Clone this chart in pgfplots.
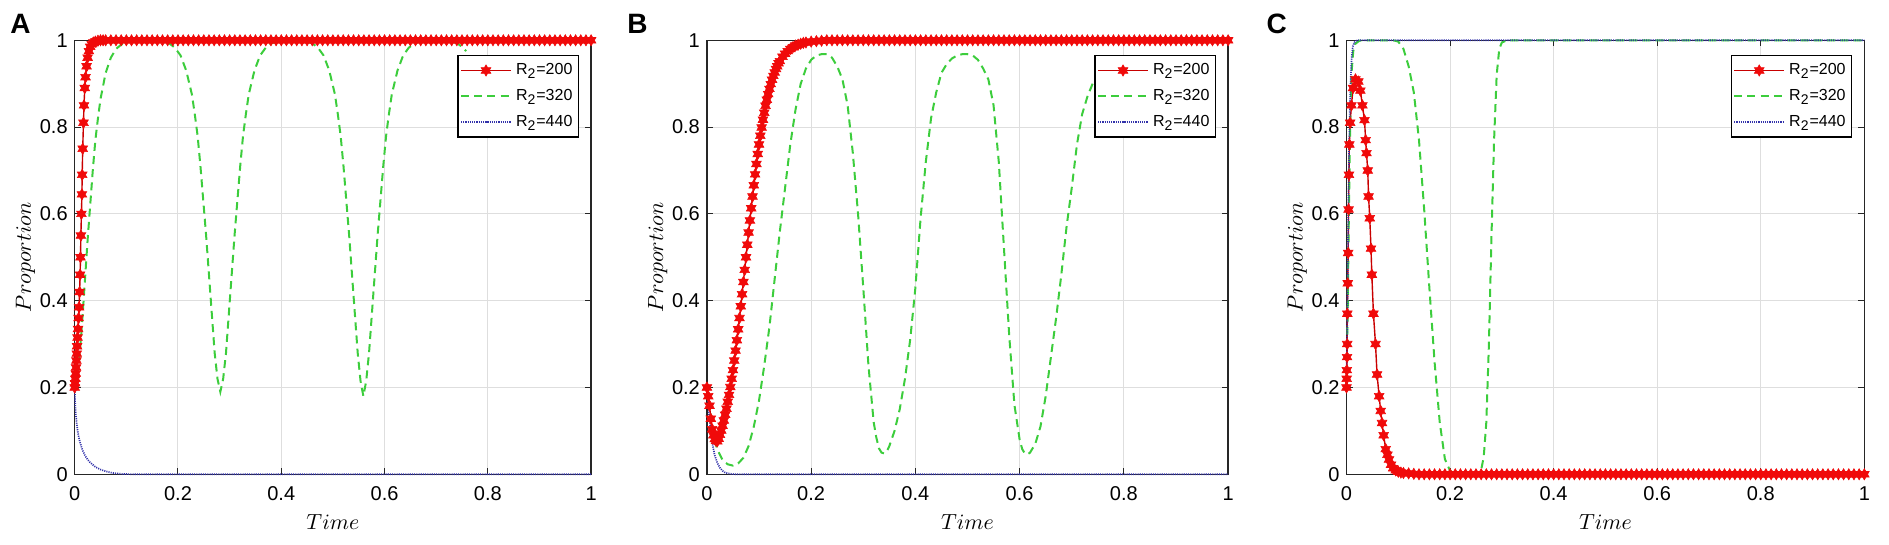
\documentclass[border=0pt]{standalone}
\usepackage{fontspec}
\setmainfont{Liberation Sans}
\usepackage{pgfplots}
\pgfplotsset{compat=1.18}
\definecolor{rline}{RGB}{200,0,0}
\definecolor{rmark}{RGB}{240,10,10}
\definecolor{gline}{RGB}{60,205,60}
\definecolor{bline}{RGB}{50,50,170}
\pgfdeclareplotmark{hexagram}{%
  \pgfpathmoveto{\pgfpointpolar{90}{\pgfplotmarksize}}%
  \pgfpathlineto{\pgfpointpolar{120}{0.577\pgfplotmarksize}}%
  \pgfpathlineto{\pgfpointpolar{150}{\pgfplotmarksize}}%
  \pgfpathlineto{\pgfpointpolar{180}{0.577\pgfplotmarksize}}%
  \pgfpathlineto{\pgfpointpolar{210}{\pgfplotmarksize}}%
  \pgfpathlineto{\pgfpointpolar{240}{0.577\pgfplotmarksize}}%
  \pgfpathlineto{\pgfpointpolar{270}{\pgfplotmarksize}}%
  \pgfpathlineto{\pgfpointpolar{300}{0.577\pgfplotmarksize}}%
  \pgfpathlineto{\pgfpointpolar{330}{\pgfplotmarksize}}%
  \pgfpathlineto{\pgfpointpolar{0}{0.577\pgfplotmarksize}}%
  \pgfpathlineto{\pgfpointpolar{30}{\pgfplotmarksize}}%
  \pgfpathlineto{\pgfpointpolar{60}{0.577\pgfplotmarksize}}%
  \pgfpathclose
  \pgfusepathqfillstroke
}
\pgfplotsset{
  panel/.style={
    scale only axis, height=217pt,
    anchor=south west,
    xmin=0, xmax=1, ymin=0, ymax=1,
    xtick={0,0.2,0.4,0.6,0.8,1}, ytick={0,0.2,0.4,0.6,0.8,1},
    grid=major, major grid style={black!13, line width=0.5pt},
    tick align=inside, major tick length=3pt,
    tick style={black!85, line width=0.5pt},
    axis line style={black!85, line width=0.7pt},
    /pgf/number format/assume math mode=true,
    tick label style={font=\fontsize{10}{12}\selectfont},
    xticklabel shift=2.5pt,
    xlabel={$Time$}, ylabel={$Proportion$},
    ylabel shift=-4.5pt,
    label style={font=\fontsize{10.5}{12}\selectfont},
    clip=false,
    legend cell align=left,
    legend style={at={(1,1)}, anchor=north east, xshift=-6pt, yshift=-7.3pt,
      draw=black, line width=0.7pt, fill=white,
      font=\fontsize{8}{9.5}\selectfont, row sep=2.8pt,
      inner xsep=1pt, inner ysep=2.4pt, nodes={inner xsep=2pt, inner ysep=1.5pt}},
    legend image code/.code={\draw[mark repeat=2,mark phase=2,#1] plot coordinates {(0pt,0pt) (12.5pt,0pt) (25pt,0pt)};},
  },
  r200/.style={color=rline, line width=0.7pt, mark=hexagram, mark size=2.8pt,
    mark options={fill=rmark, draw=rmark, line width=0.3pt, solid}},
  r320/.style={color=gline, line width=1pt, dash pattern=on 4pt off 2.6pt, no marks},
  r440/.style={color=bline, line width=0.85pt, dash pattern=on 0.55pt off 0.55pt, no marks},
}
\newcommand{\Rt}[1]{R\textsubscript{\fontsize{7}{8}\selectfont 2}=#1}
\begin{document}
\begin{tikzpicture}
\useasboundingbox (0,0) rectangle (944.5pt,272.5pt);
% ---------------- Panel A ----------------
\begin{axis}[panel, width=258.2pt, at={(37.35pt,35.35pt)}]
\addplot[r200] coordinates {(0,0.2)(0.0007,0.21)(0.0013,0.22)(0.002,0.232)(0.0026,0.246)(0.0033,0.262)(0.004,0.278)(0.0046,0.295)(0.0055,0.315)(0.0065,0.335)(0.0075,0.36)(0.0085,0.385)(0.0095,0.42)(0.0105,0.46)(0.0112,0.5)(0.012,0.55)(0.013,0.6)(0.014,0.645)(0.0145,0.69)(0.0155,0.75)(0.017,0.81)(0.018,0.85)(0.0195,0.89)(0.021,0.915)(0.023,0.94)(0.025,0.96)(0.0275,0.975)(0.03,0.985)(0.033,0.991)(0.036,0.995)(0.04,0.997)(0.045,0.999)(0.05,1)(0.055,1)
(0.06,1)(0.07,1)(0.08,1)(0.09,1)(0.10,1)(0.11,1)(0.12,1)(0.13,1)(0.14,1)(0.15,1)(0.16,1)(0.17,1)(0.18,1)(0.19,1)(0.20,1)(0.21,1)(0.22,1)(0.23,1)(0.24,1)(0.25,1)(0.26,1)(0.27,1)(0.28,1)(0.29,1)(0.30,1)(0.31,1)(0.32,1)(0.33,1)(0.34,1)(0.35,1)(0.36,1)(0.37,1)(0.38,1)(0.39,1)(0.40,1)(0.41,1)(0.42,1)(0.43,1)(0.44,1)(0.45,1)(0.46,1)(0.47,1)(0.48,1)(0.49,1)(0.50,1)(0.51,1)(0.52,1)(0.53,1)(0.54,1)(0.55,1)(0.56,1)(0.57,1)(0.58,1)(0.59,1)(0.60,1)(0.61,1)(0.62,1)(0.63,1)(0.64,1)(0.65,1)(0.66,1)(0.67,1)(0.68,1)(0.69,1)(0.70,1)(0.71,1)(0.72,1)(0.73,1)(0.74,1)(0.75,1)(0.76,1)(0.77,1)(0.78,1)(0.79,1)(0.80,1)(0.81,1)(0.82,1)(0.83,1)(0.84,1)(0.85,1)(0.86,1)(0.87,1)(0.88,1)(0.89,1)(0.90,1)(0.91,1)(0.92,1)(0.93,1)(0.94,1)(0.95,1)(0.96,1)(0.97,1)(0.98,1)(0.99,1)(1.00,1)};
\addlegendentry{\Rt{200}}
\addplot[r320] coordinates {(0,0.2)(0.005,0.225)(0.01,0.28)(0.015,0.36)(0.02,0.45)(0.025,0.54)(0.03,0.62)(0.035,0.7)(0.04,0.77)(0.045,0.82)(0.05,0.865)(0.06,0.925)(0.07,0.96)(0.08,0.98)(0.09,0.99)(0.1,0.995)(0.12,0.999)(0.14,1)(0.152,0.999)(0.172,0.997)(0.183,0.993)(0.194,0.983)(0.205,0.965)(0.216,0.93)(0.227,0.875)(0.2325,0.83)(0.238,0.78)(0.2435,0.71)(0.249,0.63)(0.2545,0.55)(0.26,0.46)(0.2655,0.37)(0.271,0.28)(0.2765,0.22)(0.282,0.19)(0.2875,0.22)(0.293,0.28)(0.2985,0.37)(0.304,0.46)(0.3095,0.55)(0.315,0.63)(0.3205,0.71)(0.326,0.78)(0.3315,0.83)(0.337,0.875)(0.348,0.93)(0.359,0.965)(0.37,0.983)(0.381,0.993)(0.392,0.997)(0.412,0.999)(0.42,1)(0.429,0.999)(0.449,0.997)(0.46,0.993)(0.471,0.983)(0.482,0.965)(0.493,0.93)(0.504,0.875)(0.5095,0.83)(0.515,0.78)(0.5205,0.71)(0.526,0.63)(0.5315,0.55)(0.537,0.46)(0.5425,0.37)(0.548,0.28)(0.5535,0.215)(0.559,0.18)(0.5645,0.215)(0.57,0.28)(0.5755,0.37)(0.581,0.46)(0.5865,0.55)(0.592,0.63)(0.5975,0.71)(0.603,0.78)(0.6085,0.83)(0.614,0.875)(0.625,0.93)(0.636,0.965)(0.647,0.983)(0.658,0.993)(0.669,0.997)(0.689,0.999)(0.7,1)(0.71,0.999)(0.73,0.997)(0.741,0.993)(0.752,0.983)(0.758,0.975)};
\addlegendentry{\Rt{320}}
\addplot[r440] coordinates {(0,0.2)(0.001,0.16)(0.002,0.14)(0.004,0.115)(0.006,0.098)(0.008,0.085)(0.01,0.075)(0.015,0.056)(0.02,0.043)(0.025,0.034)(0.03,0.027)(0.04,0.017)(0.05,0.011)(0.06,0.007)(0.07,0.004)(0.08,0.002)(0.09,0.001)(0.1,0.0005)(0.12,0)(1,0)};
\addlegendentry{\Rt{440}}
\end{axis}
% ---------------- Panel B ----------------
\begin{axis}[panel, width=260.6pt, at={(353.45pt,35.35pt)}]
\addplot[r200] coordinates {(0,0.2)(0.0025,0.18)(0.005,0.158)(0.0075,0.128)(0.01,0.104)(0.0125,0.09)(0.015,0.081)(0.0175,0.077)(0.02,0.076)(0.0225,0.082)(0.025,0.091)(0.0275,0.101)(0.03,0.112)(0.0325,0.124)(0.035,0.137)(0.0375,0.151)(0.04,0.167)(0.0425,0.183)(0.045,0.201)(0.0475,0.22)(0.05,0.24)(0.0525,0.262)(0.055,0.285)(0.0575,0.309)(0.06,0.334)(0.0625,0.36)(0.065,0.387)(0.0675,0.415)(0.07,0.443)(0.0725,0.471)(0.075,0.5)(0.0775,0.529)(0.08,0.557)(0.0825,0.585)(0.085,0.613)(0.0875,0.64)(0.09,0.666)(0.0925,0.691)(0.095,0.715)(0.0975,0.738)(0.1,0.76)(0.1025,0.78)(0.105,0.799)(0.1075,0.817)(0.11,0.833)(0.1125,0.849)(0.115,0.863)(0.1175,0.876)(0.12,0.888)(0.1225,0.899)(0.125,0.909)(0.1275,0.918)(0.13,0.926)(0.1325,0.934)(0.135,0.94)(0.1375,0.947)(0.14,0.952)(0.145,0.962)(0.15,0.969)(0.155,0.975)(0.16,0.98)(0.165,0.984)(0.17,0.988)(0.175,0.99)(0.18,0.992)(0.185,0.994)(0.19,0.995)(0.2,0.997)(0.21,0.998)(0.22,0.999)
(0.23,1)(0.24,1)(0.25,1)(0.26,1)(0.27,1)(0.28,1)(0.29,1)(0.30,1)(0.31,1)(0.32,1)(0.33,1)(0.34,1)(0.35,1)(0.36,1)(0.37,1)(0.38,1)(0.39,1)(0.40,1)(0.41,1)(0.42,1)(0.43,1)(0.44,1)(0.45,1)(0.46,1)(0.47,1)(0.48,1)(0.49,1)(0.50,1)(0.51,1)(0.52,1)(0.53,1)(0.54,1)(0.55,1)(0.56,1)(0.57,1)(0.58,1)(0.59,1)(0.60,1)(0.61,1)(0.62,1)(0.63,1)(0.64,1)(0.65,1)(0.66,1)(0.67,1)(0.68,1)(0.69,1)(0.70,1)(0.71,1)(0.72,1)(0.73,1)(0.74,1)(0.75,1)(0.76,1)(0.77,1)(0.78,1)(0.79,1)(0.80,1)(0.81,1)(0.82,1)(0.83,1)(0.84,1)(0.85,1)(0.86,1)(0.87,1)(0.88,1)(0.89,1)(0.90,1)(0.91,1)(0.92,1)(0.93,1)(0.94,1)(0.95,1)(0.96,1)(0.97,1)(0.98,1)(0.99,1)(1.00,1)};
\addlegendentry{\Rt{200}}
\addplot[r320] coordinates {(0,0.2)(0.005,0.16)(0.01,0.115)(0.015,0.08)(0.02,0.057)(0.03,0.033)(0.04,0.023)(0.05,0.02)(0.06,0.025)(0.07,0.038)(0.08,0.065)(0.09,0.11)(0.1,0.17)(0.11,0.25)(0.12,0.34)(0.13,0.45)(0.14,0.56)(0.15,0.66)(0.16,0.76)(0.17,0.84)(0.18,0.9)(0.19,0.935)(0.2,0.955)(0.21,0.965)(0.22,0.968)(0.23,0.968)(0.24,0.96)(0.25,0.94)(0.26,0.91)(0.27,0.85)(0.28,0.74)(0.29,0.6)(0.3,0.43)(0.31,0.25)(0.32,0.12)(0.325,0.085)(0.33,0.06)(0.335,0.05)(0.34,0.048)(0.345,0.052)(0.35,0.065)(0.36,0.1)(0.37,0.15)(0.38,0.22)(0.39,0.31)(0.4,0.43)(0.41,0.59)(0.42,0.72)(0.43,0.82)(0.44,0.88)(0.45,0.925)(0.46,0.945)(0.47,0.958)(0.48,0.965)(0.49,0.968)(0.5,0.968)(0.51,0.965)(0.52,0.955)(0.53,0.935)(0.54,0.91)(0.55,0.85)(0.56,0.72)(0.57,0.52)(0.58,0.32)(0.59,0.16)(0.6,0.08)(0.605,0.058)(0.61,0.048)(0.615,0.046)(0.62,0.05)(0.63,0.07)(0.64,0.11)(0.65,0.18)(0.66,0.27)(0.67,0.36)(0.68,0.46)(0.69,0.57)(0.7,0.66)(0.71,0.76)(0.72,0.83)(0.73,0.87)(0.74,0.9)(0.745,0.91)};
\addlegendentry{\Rt{320}}
\addplot[r440] coordinates {(0,0.2)(0.0025,0.16)(0.005,0.125)(0.0075,0.098)(0.01,0.075)(0.0125,0.058)(0.015,0.044)(0.02,0.026)(0.025,0.015)(0.03,0.008)(0.035,0.004)(0.04,0.002)(0.05,0.0005)(0.06,0)(1,0)};
\addlegendentry{\Rt{440}}
\end{axis}
% ---------------- Panel C ----------------
\begin{axis}[panel, width=258.9pt, at={(673.25pt,35.35pt)}]
\addplot[r200] coordinates {(0,0.2)(0.0003,0.22)(0.0006,0.24)(0.001,0.27)(0.0013,0.3)(0.0016,0.37)(0.0024,0.44)(0.0032,0.51)(0.004,0.61)(0.0047,0.69)(0.0055,0.76)(0.007,0.81)(0.0095,0.85)(0.0126,0.89)(0.0173,0.91)(0.0229,0.905)(0.0268,0.884)(0.0307,0.85)(0.0347,0.816)(0.037,0.77)(0.0386,0.74)(0.041,0.7)(0.0426,0.64)(0.0449,0.59)(0.0473,0.52)(0.0489,0.46)(0.052,0.37)(0.056,0.3)(0.059,0.23)(0.063,0.18)(0.066,0.146)(0.0686,0.118)(0.0717,0.09)(0.0757,0.058)(0.079,0.045)(0.082,0.034)(0.086,0.022)(0.09,0.014)(0.095,0.009)(0.1,0.006)(0.105,0.004)(0.11,0.003)(0.12,0.002)(0.13,0.001)
(0.14,0)(0.15,0)(0.16,0)(0.17,0)(0.18,0)(0.19,0)(0.20,0)(0.21,0)(0.22,0)(0.23,0)(0.24,0)(0.25,0)(0.26,0)(0.27,0)(0.28,0)(0.29,0)(0.30,0)(0.31,0)(0.32,0)(0.33,0)(0.34,0)(0.35,0)(0.36,0)(0.37,0)(0.38,0)(0.39,0)(0.40,0)(0.41,0)(0.42,0)(0.43,0)(0.44,0)(0.45,0)(0.46,0)(0.47,0)(0.48,0)(0.49,0)(0.50,0)(0.51,0)(0.52,0)(0.53,0)(0.54,0)(0.55,0)(0.56,0)(0.57,0)(0.58,0)(0.59,0)(0.60,0)(0.61,0)(0.62,0)(0.63,0)(0.64,0)(0.65,0)(0.66,0)(0.67,0)(0.68,0)(0.69,0)(0.70,0)(0.71,0)(0.72,0)(0.73,0)(0.74,0)(0.75,0)(0.76,0)(0.77,0)(0.78,0)(0.79,0)(0.80,0)(0.81,0)(0.82,0)(0.83,0)(0.84,0)(0.85,0)(0.86,0)(0.87,0)(0.88,0)(0.89,0)(0.90,0)(0.91,0)(0.92,0)(0.93,0)(0.94,0)(0.95,0)(0.96,0)(0.97,0)(0.98,0)(0.99,0)(1.00,0)};
\addlegendentry{\Rt{200}}
\addplot[r320] coordinates {(0,0.2)(0.002,0.35)(0.004,0.55)(0.006,0.72)(0.008,0.85)(0.01,0.93)(0.013,0.975)(0.017,0.992)(0.025,0.999)(0.04,1)(0.09,1)(0.1,0.997)(0.11,0.98)(0.12,0.94)(0.13,0.88)(0.14,0.77)(0.15,0.61)(0.16,0.43)(0.17,0.26)(0.18,0.12)(0.19,0.035)(0.2,0.008)(0.21,0.001)(0.25,0.001)(0.26,0.01)(0.265,0.04)(0.27,0.12)(0.275,0.3)(0.28,0.55)(0.285,0.77)(0.29,0.92)(0.295,0.98)(0.3,0.995)(0.31,1)(1,1)};
\addlegendentry{\Rt{320}}
\addplot[r440] coordinates {(0,0.2)(0.001,0.3)(0.002,0.42)(0.003,0.55)(0.004,0.66)(0.005,0.75)(0.006,0.82)(0.008,0.91)(0.01,0.96)(0.012,0.985)(0.015,0.995)(0.02,1)(1,1)};
\addlegendentry{\Rt{440}}
\end{axis}
\node[font=\bfseries\fontsize{14}{16}\selectfont] at (10.3pt,260.5pt) {A};
\node[font=\bfseries\fontsize{14}{16}\selectfont] at (318.8pt,260.5pt) {B};
\node[font=\bfseries\fontsize{14}{16}\selectfont] at (638.3pt,260.5pt) {C};
\end{tikzpicture}
\end{document}
